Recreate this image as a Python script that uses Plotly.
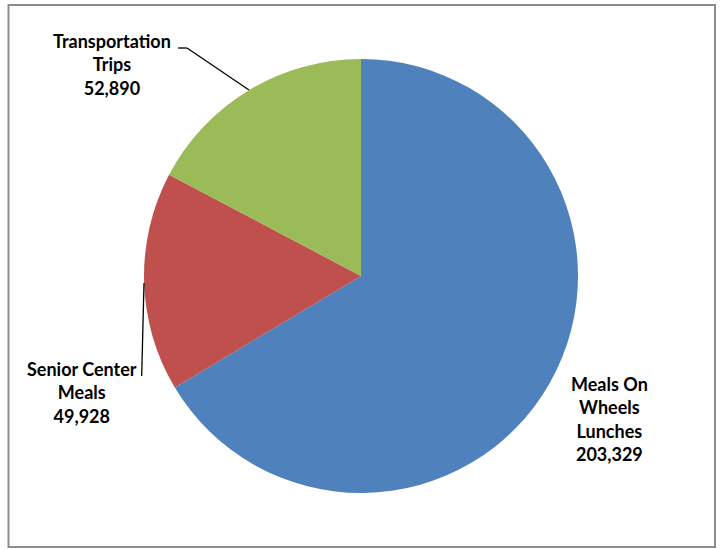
import plotly.graph_objects as go

labels = ["Meals On Wheels Lunches", "Senior Center Meals", "Transportation Trips"]
values = [203329, 49928, 52890]
label_text = ["Meals On<br>Wheels<br>Lunches", "Senior Center<br>Meals", "Transportation<br>Trips"]
colors = ["#4F81BD", "#C0504D", "#9BBB59"]

W, H = 721, 549
def px(x):
    return x / W
def py(y):
    return 1 - y / H

fig = go.Figure(go.Pie(
    labels=labels, values=values, sort=False, direction="clockwise", rotation=0,
    marker=dict(colors=colors, line=dict(width=0)),
    textinfo="none", hoverinfo="label+value",
    domain=dict(x=[px(144), px(578)], y=[py(493), py(59)]),
    showlegend=False,
))

font = dict(family="Lato", size=18, color="#000000")
positions = [(609, 419), (82, 392), (112, 65)]
for txt, v, (x, y) in zip(label_text, values, positions):
    fig.add_annotation(x=px(x), y=py(y), xref="paper", yref="paper",
                       text="<b>%s<br>%s</b>" % (txt, f"{v:,}"), showarrow=False,
                       xanchor="center", yanchor="middle", align="center", font=font)

line = dict(color="#000000", width=1.3)
# leader lines
fig.add_shape(type="line", xref="paper", yref="paper", x0=px(178), y0=py(48), x1=px(187), y1=py(48), line=line)
fig.add_shape(type="line", xref="paper", yref="paper", x0=px(187), y0=py(48), x1=px(249), y1=py(90), line=line)
fig.add_shape(type="line", xref="paper", yref="paper", x0=px(144), y0=py(283), x1=px(141.7), y1=py(376), line=line)
# chart border
fig.add_shape(type="rect", xref="paper", yref="paper", x0=px(8.5), y0=py(547), x1=px(715), y1=py(5),
              line=dict(color="#8C8C8C", width=2))

fig.update_layout(width=W, height=H, margin=dict(l=0, r=0, t=0, b=0),
                  paper_bgcolor="white", plot_bgcolor="white")
fig.write_html("out.html", config={"displayModeBar": False},
               post_script="document.body.style.margin='0';document.body.style.overflow='hidden';")
